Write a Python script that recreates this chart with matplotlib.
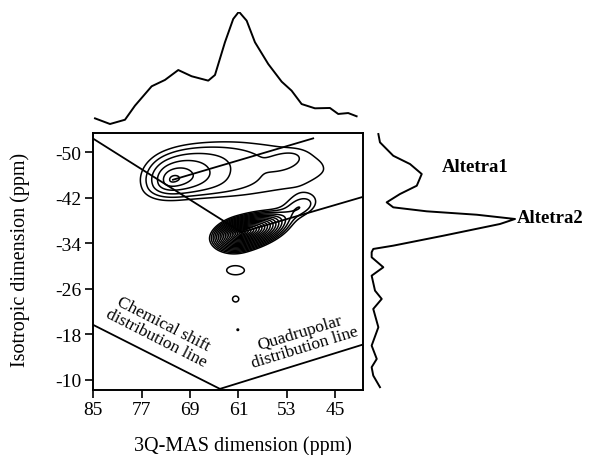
import numpy as np
import matplotlib
matplotlib.use('Agg')
import matplotlib.pyplot as plt

plt.rcParams['font.family'] = ['Liberation Serif', 'DejaVu Serif']
plt.rcParams['axes.unicode_minus'] = False

# ---------------- data ----------------
x_ticks = [85, 77, 69, 61, 53, 45]
y_ticks = [-50, -42, -34, -26, -18, -10]
x_label = '3Q-MAS dimension (ppm)'
y_label = 'Isotropic dimension (ppm)'

# top (MAS) projection: ppm, relative intensity
top_ppm = [84.72, 82.24, 79.76, 78.11, 75.35, 73.15, 70.95, 68.74, 65.99, 64.88,
           63.23, 61.86, 60.92, 59.64, 58.27, 56.07, 53.85, 52.21, 50.55, 48.35,
           45.87, 44.50, 42.85, 41.46]
top_int = [0.075, 0.026, 0.063, 0.185, 0.353, 0.408, 0.494, 0.440, 0.402, 0.451,
           0.735, 0.937, 1.000, 0.922, 0.735, 0.546, 0.393, 0.315, 0.199, 0.162,
           0.165, 0.113, 0.121, 0.093]

# right (isotropic) projection: ppm, relative intensity
right_ppm = [-53.22, -51.76, -49.40, -47.94, -46.19, -44.13, -42.67, -41.21, -40.33,
             -39.63, -39.03, -38.28, -37.40, -35.34, -33.59, -33.01, -32.43, -31.55,
             -29.79, -28.31, -25.68, -24.22, -22.46, -19.24, -16.01, -13.67, -12.21,
             -10.74, -8.70]
right_int = [0.064, 0.075, 0.166, 0.281, 0.361, 0.327, 0.212, 0.121, 0.166,
             0.395, 0.738, 1.000, 0.897, 0.509, 0.166, 0.029, 0.018, 0.018,
             0.098, 0.018, 0.041, 0.087, 0.029, 0.064, 0.018, 0.053, 0.018,
             0.029, 0.075]

# 2D spectrum described as peak components
#              A2     A1     plateau loop   blob   ellip  circ   dot
peak_x =      [60.5,  71.8,  59.0,   53.2,  50.5,  61.46, 61.46, 61.1]
peak_y =      [-35.9, -45.2, -46.5,  -48.6, -40.5, -29.2, -24.2, -18.8]
peak_sa_neg = [1.3,   4.8,   12.0,   1.8,   2.5,   2.2,   1.0,   0.5]
peak_sa_pos = [2.1,   5.5,   18.0,   1.8,   2.5,   2.2,   1.0,   0.5]
peak_sb_up =  [0.72,  4.3,   5.75,   0.9,   1.4,   1.15,  1.0,   0.5]
peak_sb_dn =  [0.85,  3.0,   4.5,    0.9,   1.4,   1.15,  1.0,   0.5]
peak_amp =    [3.1,   0.145, 0.054,  0.02,  0.06,  0.06,  0.057, 0.052]
peak_tilt =   [17.0,  17.0,  3.0,    17.0,  17.0,  0.0,   0.0,   0.0]
peak_power =  [1.0,   1.0,   4.0,    2.0,   2.0,   2.0,   2.0,   2.0]
level_base = 0.05
level_ratio = 1.25
n_levels = 20

# guide lines (ppm endpoints)
guide_x = [[85.1, 60.47], [71.83, 48.64], [60.47, 40.1], [85.1, 64.06], [64.06, 40.1]]
guide_y = [[-52.46, -35.94], [-45.18, -52.46], [-35.94, -42.27], [-19.70, -8.40], [-8.40, -16.3]]

# ---------------- figure ----------------
fig = plt.figure(figsize=(5.95, 4.56), dpi=100)
ax = fig.add_axes([0.1558, 0.1425, 0.4543, 0.5636])
ax_top = fig.add_axes([0.1558, 0.7193, 0.4543, 0.2529], sharex=ax)
ax_right = fig.add_axes([0.6202, 0.1425, 0.2454, 0.5636], sharey=ax)

xlim = (85.1, 40.4)
ylim = (-8.2, -53.4)

gx = np.linspace(40, 86, 500)
gy = np.linspace(-54, -8, 500)
X, Y = np.meshgrid(gx, gy)
Z = np.zeros_like(X)
for x0, y0, san, sap, sbu, sbd, a, t, p in zip(peak_x, peak_y, peak_sa_neg, peak_sa_pos,
                                              peak_sb_up, peak_sb_dn, peak_amp, peak_tilt,
                                              peak_power):
    th = np.deg2rad(t)
    dx = X - x0
    dy = Y - y0
    u = -dx * np.cos(th) - dy * np.sin(th)
    v = -dx * np.sin(th) + dy * np.cos(th)
    sa = np.where(u > 0, sap, san)
    sb = np.where(v > 0, sbd, sbu)
    q = (u / sa) ** 2 + (v / sb) ** 2
    if p == 1.0:
        Z += a * np.exp(-np.sqrt(q))
    else:
        Z += a * np.exp(-(q ** (p / 2.0)) / 2.0)

levels = level_base * level_ratio ** np.arange(n_levels)
ax.contour(X, Y, Z, levels=levels, colors='k', linewidths=1.1)

for gxs, gys in zip(guide_x, guide_y):
    ax.plot(gxs, gys, color='k', lw=1.3)

ax.set_xticks(x_ticks)
ax.set_yticks(y_ticks)
ax.tick_params(direction='out', length=6, width=1.2, labelsize=14, pad=2)
for s in ax.spines.values():
    s.set_linewidth(1.4)

ax.text(74.0, -18.7, 'Chemical shift\ndistribution line', rotation=-27, ha='center',
        va='center', fontsize=12.5, linespacing=0.95, rotation_mode='anchor')
ax.text(50.4, -17.0, 'Quadrupolar\ndistribution line', rotation=17, ha='center',
        va='center', fontsize=12.5, linespacing=0.95, rotation_mode='anchor')

ax_top.plot(top_ppm, top_int, color='k', lw=1.4)
ax_top.set_ylim(0, 1)
ax_top.axis('off')

ax_right.plot(right_int, right_ppm, color='k', lw=1.4, clip_on=False)
ax_right.set_xlim(0, 1)
ax_right.axis('off')
ax_right.text(0.50, -47.5, 'Altetra1', fontsize=13.5, fontweight='bold', ha='left', va='center')
ax_right.text(1.015, -38.5, 'Altetra2', fontsize=13.5, fontweight='bold', ha='left', va='center',
              clip_on=False)

ax.set_xlim(*xlim)
ax.set_ylim(*ylim)

fig.text(243 / 595, 1 - 446 / 456, x_label, ha='center', va='center', fontsize=14.5)
fig.text(20 / 595, 1 - 260 / 456, y_label, ha='center', va='center', fontsize=14.5, rotation=90)

fig.savefig('out.png', dpi=100)
